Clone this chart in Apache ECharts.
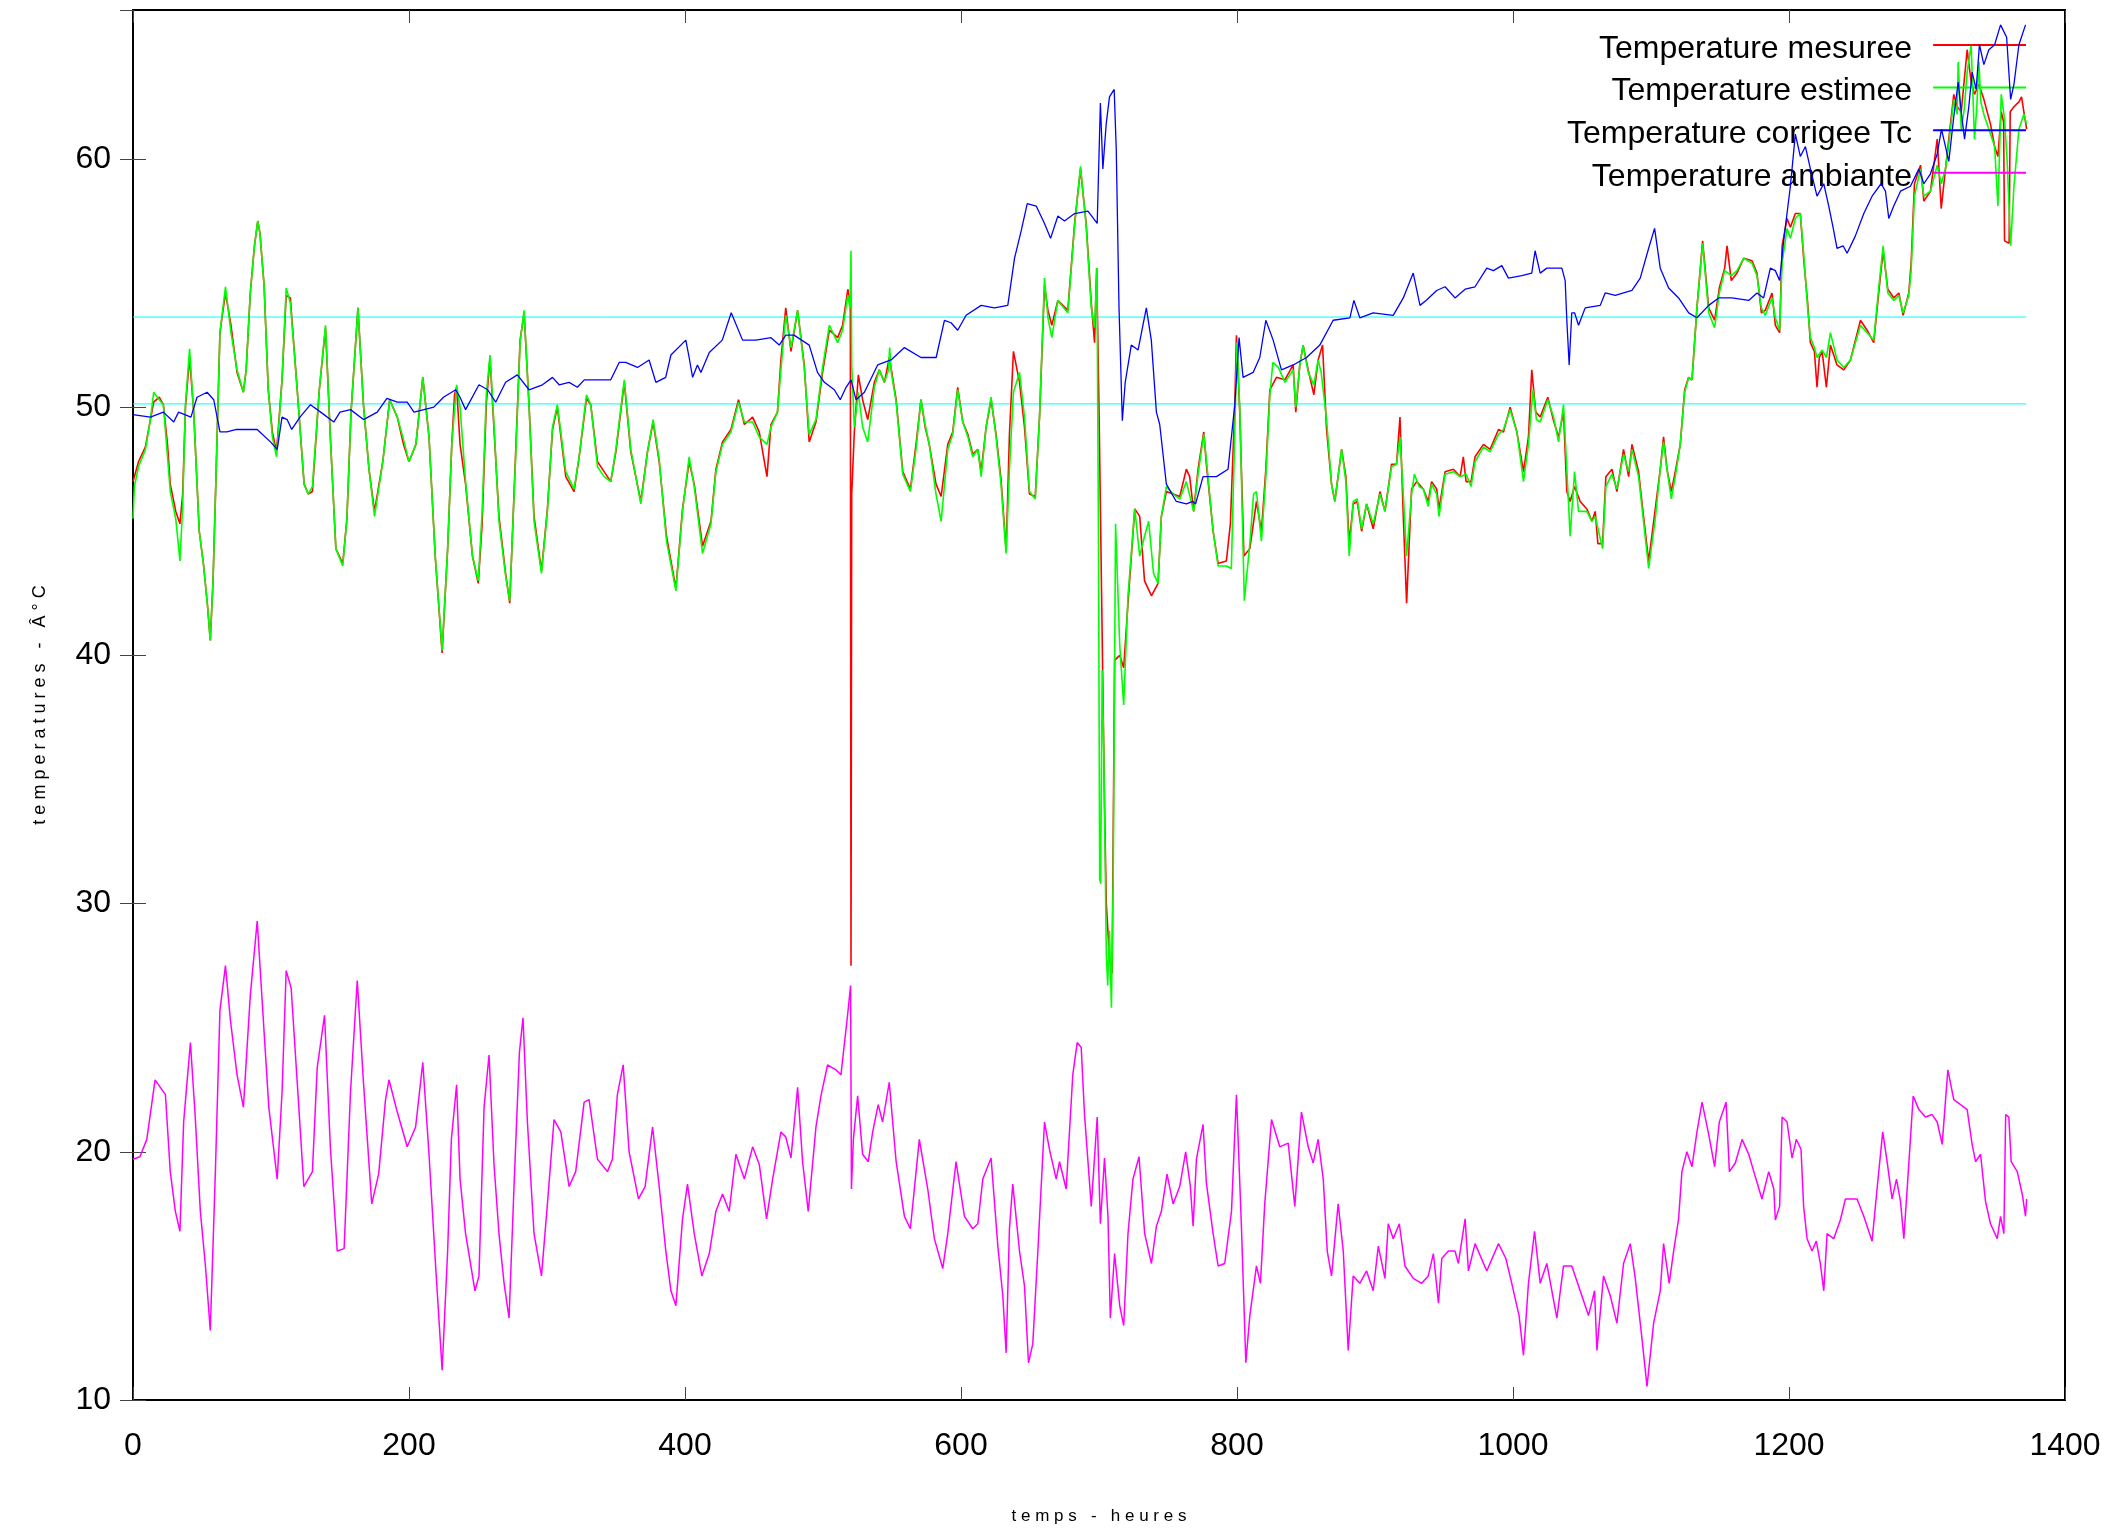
<!DOCTYPE html>
<html>
<head>
<meta charset="utf-8">
<script src="https://cdn.jsdelivr.net/npm/echarts@6/dist/echarts.min.js"></script>
<style>
html,body{margin:0;padding:0;background:#fff;}
#chart{width:2112px;height:1533px;}
</style>
</head>
<body>
<div id="chart"></div>
<script>
// ---- data (hours, °C) ----
const xTicks = [0, 200, 400, 600, 800, 1000, 1200, 1400];
const yTicks = [10, 20, 30, 40, 50, 60];
const seriesNames = ['Temperature mesuree', 'Temperature estimee', 'Temperature corrigee Tc', 'Temperature ambiante'];
const cyanLevels = [53.63, 50.13];
const cyanExtent = [0, 1372];

const temperatureMesuree = [
[0,47.0],[4,47.8],[9,48.4],[12.6,49.5],[15,50.2],[19,50.4],[22,50.1],[25,48.5],[27,46.9],[31,45.8],[34,45.3],[36,46.5],[38,50.0],[41,52.0],[44,49.8],[48,45.0],[51,43.7],[54,42.0],[56,40.6],[58,43.0],[60,46.9],[63,53.0],[67,54.6],[71,53.3],[75.4,51.4],[80,50.6],[82,51.5],[85,54.6],[88,56.5],[90.4,57.5],[92,57.0],[95,54.9],[98,50.7],[101,49.0],[104,48.2],[108,51.1],[111,54.5],[114,54.4],[119,50.7],[124,46.9],[127,46.5],[130,46.6],[135,50.7],[139.5,53.2],[143,48.8],[147,44.3],[152,43.7],[155,45.5],[158,49.8],[163,54.0],[167,50.1],[171,47.5],[175,45.8],[181,47.8],[186,50.3],[191.5,49.6],[196,48.5],[200,47.8],[205,48.5],[210,51.2],[214.5,48.8],[219,44.0],[224,40.1],[228,44.3],[231,48.5],[233,50.5],[234.5,50.8],[237,48.5],
[241,46.9],[246,44.0],[250.2,42.9],[253,45.3],[256,50.1],[258.7,52.0],[261.6,49.1],[265.2,45.6],[270,43.3],[273,42.1],[277.3,48.2],[280.5,52.7],[283.4,53.8],[287,50.1],[290.6,45.6],[296,43.4],[300.3,45.9],[304,49.1],[307.5,50.0],[313.6,47.2],[319.6,46.6],[323.3,48.0],[328.6,50.35],[331.7,50.1],[336.6,47.8],[341.4,47.4],[346.2,47.0],[349.9,48.2],[356,51.0],[360.7,48.2],[368,46.2],[372.8,48.2],[376.9,49.4],[381.3,47.8],[386.6,44.8],[393.4,42.7],[398.2,45.9],[403,47.8],[406.7,46.9],[412.7,44.4],[418.8,45.4],[422.4,47.5],[427.2,48.6],[433.3,49.1],[438.8,50.3],[443,49.3],[449,49.6],[453.8,49.0],[459.4,47.2],[462.3,49.3],[467,49.8],[469.5,51.9],[473,54.0],
[476.8,52.25],[481.6,53.9],[486.4,51.7],[490,48.6],[494.9,49.4],[499.7,51.4],[504.6,53.1],[510.6,52.8],[514.2,53.3],[518,54.75],[519.8,54.2],[520.3,27.5],[520.8,46.5],[522.7,49.0],[525.6,51.3],[528.7,50.3],[532.4,49.5],[537.2,51.0],[540.8,51.5],[544.5,51.0],[548.1,52.0],[553,50.3],[557.8,47.4],[563.3,46.7],[567.4,48.5],[571,50.3],[574,49.2],[577,48.5],[581.9,46.9],[585.6,46.4],[590.4,48.5],[594,49.0],[597.6,50.8],[601.3,49.4],[605,48.9],[608.5,48.1],[612.2,48.3],[614.6,47.4],[618.2,49.2],[621.8,50.3],[625.4,48.9],[629,47.1],[632.7,44.2],[635.1,48.9],[638,52.25],[642.4,51.0],[646,49.2],[649.6,46.5],[653.8,46.4],[656.9,49.6],[660.5,54.9],[663,53.9],[665.8,53.3],[670.2,54.3],[677.4,53.9],[682.3,57.4],[686.6,59.6],[690.7,57.4],[694.4,54.2],[696.8,52.6],[698.3,55.6],[700,50.0],[702,42.0],[704,34.0],[705.3,30.0],[707.6,27.8],[709.5,27.2],[711.3,39.8],[715,40.0],[717.9,39.5],[721,42.1],
[725.9,45.9],[729.5,45.6],[733,43.0],[738,42.4],[742.8,42.9],[745.2,45.6],[748.8,46.6],[753.7,46.5],[758.5,46.4],[763.3,47.5],[765.7,47.2],[768.6,45.8],[771.8,47.5],[775.9,49.0],[777.8,47.7],[782.7,45.0],[786.3,43.7],[792.3,43.8],[795.2,45.3],[798.4,50.1],[799.6,52.9],[802,49.8],[805,44.0],[809.3,44.3],[814.1,46.2],[817.7,45.0],[820.9,47.5],[823.8,50.7],[828.6,51.2],[834.7,51.1],[840.7,51.7],[842.6,49.8],[845.5,51.7],[847.9,52.5],[851.6,51.5],[855.7,50.5],[858.8,51.9],[862,52.5],[864.9,49.1],[868.5,46.9],[870.9,46.2],[875.8,48.3],[878.9,47.2],[881.3,44.5],[884.2,46.1],[887.1,46.2],[890.3,45.0],[893.9,46.1],[898.7,45.1],[903.6,46.6],[907.2,45.8],[912,47.7],[915.6,47.7],[918.1,49.6],[920.5,45.6],[922.9,42.1],[926.5,46.7],[930.2,47.0],[935,46.7],[938.6,46.2],[941,47.0],[944.7,46.7],
[946.4,45.9],[950.8,47.4],[956.8,47.5],[961.7,47.2],[964,48.0],[966,47.0],[969.6,47.0],[972.5,48.0],[978.6,48.5],[983.4,48.3],[989.5,49.1],[993.1,49.0],[997.9,50.0],[1002.8,49.0],[1007.6,47.4],[1011.2,48.8],[1013.6,51.5],[1016.5,49.8],[1019.7,49.6],[1025.2,50.4],[1029.4,49.45],[1033,48.8],[1036.6,49.8],[1039,46.6],[1041.4,46.2],[1044.6,46.8],[1048.7,46.2],[1053.5,45.9],[1057.2,45.4],[1059.6,45.8],[1061.5,44.5],[1064.9,44.5],[1067.3,47.2],[1071.7,47.5],[1075.3,46.6],[1080.1,48.3],[1083.8,47.2],[1086.2,48.5],[1091,47.4],[1094.6,45.6],[1098.3,43.8],[1103.1,45.9],[1106.7,47.5],[1109.1,48.8],[1111.6,47.5],[1114.7,46.6],[1117.6,47.4],[1121.2,48.5],[1124.4,50.7],[1127.3,51.2],[1129.7,51.1],[1133.3,54.0],[1137.4,56.7],[1141.8,54.0],[1146.1,53.5],[1149.5,54.8],[1153.4,55.6],[1155.1,56.5],[1158.2,55.1],[1162.3,55.4],[1167.2,56.0],[1173.2,55.9],[1176.8,55.4],[1180,53.8],
[1182.8,53.9],[1187.7,54.6],[1190.1,53.3],[1193.2,53.0],[1195,56.5],[1198.6,57.6],[1201,57.25],[1204.6,57.8],[1208.2,57.8],[1210.6,56.0],[1213.5,54.2],[1215.5,52.6],[1218.4,52.25],[1220.3,50.8],[1222,52.0],[1224,52.25],[1227.1,50.8],[1230,52.5],[1234.8,51.7],[1239.7,51.5],[1244.5,51.9],[1251.8,53.5],[1256.6,53.1],[1261.4,52.6],[1265,54.6],[1268.2,56.3],[1271.6,54.75],[1276,54.4],[1279.6,54.6],[1282.7,53.7],[1286.8,54.6],[1288.5,55.8],[1290.9,59.0],[1295.3,59.75],[1297.7,58.3],[1302.5,58.7],[1307.4,60.8],[1310.3,58.0],[1313.4,59.6],[1315.8,60.8],[1319.4,62.6],[1321.9,62.1],[1324.8,61.9],[1329.1,64.4],[1332,63.1],[1334.4,62.6],[1337.6,63.0],[1341.2,62.4],[1346,61.4],[1349,60.5],[1351.4,60.1],[1353.8,61.9],[1355.5,61.5],[1356.2,56.7],[1359.5,56.6],[1360.3,61.9],[1363,62.1],[1366.6,62.3],[1368.5,62.5],[1370.2,61.9],[1372.2,61.2]
];

const temperatureEstimee = [
[0,45.5],[1,46.8],[4,47.6],[9,48.3],[12.6,49.5],[15,50.6],[19,50.3],[22,50.1],[25,48.0],[27,46.6],[31,45.5],[34,43.8],[36,46.0],[38,50.1],[41,52.35],[44,49.8],[48,45.0],[51,43.7],[54,42.0],[56,40.6],[58,43.0],[60,46.9],[63,53.0],[67,54.85],[71,53.0],[75.4,51.5],[80,50.6],[82,51.5],[85,54.6],[88,56.5],[90.4,57.5],[92,57.0],[95,54.9],[98,50.7],[101,48.8],[104,48.0],[108,51.1],[111,54.8],[114,54.2],[119,50.7],[124,46.9],[127,46.5],[130,46.8],[135,50.7],[139.5,53.3],[143,48.8],[147,44.3],[152,43.6],[155,45.5],[158,49.8],[163,54.0],[167,50.1],[171,47.5],[175,45.6],[181,47.8],[186,50.3],[191.5,49.6],[196,48.7],[200,47.8],[205,48.5],[210,51.2],[214.5,48.8],[219,44.0],[224,40.2],[228,44.3],[231,48.5],[234.5,50.9],[237,50.0],
[241,47.0],[246,44.0],[250.2,43.0],[253,45.8],[256,50.5],[258.7,52.1],[261.6,49.3],[265.2,45.4],[270,43.2],[273,42.2],[277.3,48.0],[280.5,52.6],[283.4,53.9],[287,50.0],[290.6,45.4],[296,43.3],[300.3,45.8],[304,49.2],[307.5,50.1],[313.6,47.4],[319.6,46.7],[323.3,48.0],[328.6,50.5],[331.7,50.1],[336.6,47.6],[341.4,47.2],[346.2,47.0],[349.9,48.3],[356,51.1],[360.7,48.3],[368,46.1],[372.8,48.2],[376.9,49.5],[381.3,47.9],[386.6,44.6],[393.4,42.6],[398.2,45.8],[403,48.0],[406.7,46.8],[412.7,44.1],[418.8,45.3],[422.4,47.4],[427.2,48.5],[433.3,49.0],[438.8,50.2],[443,49.4],[449,49.4],[453.8,48.8],[459.4,48.5],[462.3,49.2],[467,49.8],[469.5,51.5],
[473,53.7],[476.8,52.4],[481.6,53.9],[486.4,51.6],[490,48.9],[494.9,49.5],[499.7,51.6],[504.6,53.3],[510.6,52.6],[514.2,53.1],[518,54.5],[519.5,54.0],[520.3,56.3],[520.8,51.7],[522.7,49.2],[525.6,50.6],[528.7,49.2],[532.4,48.6],[537.2,50.8],[540.8,51.5],[544.5,51.0],[547.5,51.5],[548.3,52.4],[549.5,51.4],[553,50.2],[557.8,47.3],[563.3,46.6],[567.4,48.3],[571,50.3],[574,49.3],[577,48.5],[581.9,46.5],[585.6,45.4],[590.4,48.3],[594,48.9],[597.6,50.7],[601.3,49.4],[605,48.8],[608.5,48.0],[612.2,48.3],[614.6,47.2],[618.2,49.2],[621.8,50.4],[625.4,48.8],[629,46.9],[632.7,44.1],[635.1,47.5],[638,50.6],[642.4,51.4],[646,49.6],[649.6,46.6],[653.8,46.3],[656.9,49.6],[660.5,55.2],[663,53.6],[665.8,52.8],[670.2,54.3],[677.4,53.8],[682.3,57.3],[686.6,59.7],[690.7,57.3],[694.4,54.0],[696.8,53.2],[698.5,55.6],[699.6,45.0],[700.5,31.0],[701.2,30.8],[702.3,39.4],[703.5,36.0],[705.3,28.0],[706.3,26.7],[707.6,28.9],[709,25.8],[710.3,31.0],[712,45.3],[715,40.45],[717.9,38.0],[721,42.4],
[725.9,45.9],[729.5,44.0],[733,44.8],[736,45.4],[739.5,43.3],[742.8,42.9],[745.2,45.6],[748.8,46.8],[753.7,46.5],[758.5,46.3],[763.3,47.0],[768.6,45.8],[771.8,47.3],[775.9,48.9],[777.8,47.9],[782.7,45.0],[786.3,43.6],[792.3,43.6],[795.9,43.5],[798.4,49.0],[800,52.6],[802,50.0],[805.3,42.2],[809.3,44.5],[812,46.5],[814.1,46.6],[817.7,44.6],[820.9,47.2],[823.8,50.5],[826,51.8],[830,51.6],[834.7,51.0],[840.7,51.5],[842.6,50.0],[845.5,51.7],[847.9,52.5],[851.6,51.4],[855.7,50.9],[858.8,51.9],[861,51.4],[864.9,49.5],[868.5,46.9],[870.9,46.2],[875.8,48.3],[878.9,47.0],[881.3,44.0],[884.2,46.2],[887.1,46.3],[890.3,45.1],[893.9,46.1],[898.7,45.3],[903.6,46.5],[907.2,45.8],[912,47.6],[915.6,47.7],[918.1,48.8],[920.5,46.5],[922.9,44.0],[926.5,46.5],[928.5,47.3],[932,46.8],[935,46.7],[938.6,46.0],[941,46.9],[944.7,46.5],
[946.4,45.6],[950.8,47.3],[956.8,47.4],[961.7,47.2],[966,47.3],[969.6,46.8],[972.5,47.8],[978.6,48.4],[983.4,48.2],[989.5,48.9],[993.1,49.1],[997.9,49.9],[1002.8,49.0],[1007.6,47.0],[1011.2,48.5],[1014.5,50.7],[1017,49.5],[1019.7,49.4],[1025.2,50.3],[1029.4,49.6],[1033,48.6],[1036.6,50.1],[1039,47.5],[1041.4,44.8],[1044.6,47.4],[1047.5,45.8],[1053.5,45.8],[1057.2,45.4],[1059.6,45.6],[1062,45.0],[1064.9,44.3],[1067.3,46.8],[1071.7,47.3],[1075.3,46.7],[1080.1,48.1],[1083.8,47.4],[1086.2,48.3],[1091,47.2],[1094.6,45.4],[1098.3,43.5],[1103.1,45.5],[1106.7,47.5],[1109.1,48.6],[1111.6,47.5],[1114.7,46.3],[1117.6,47.2],[1121.2,48.5],[1124.4,50.6],[1127.3,51.2],[1129.7,51.1],[1133.3,54.0],[1137.4,56.6],[1141.8,53.8],[1146.1,53.2],[1149.5,54.6],[1153.4,55.5],[1158.2,55.3],[1162.3,55.5],[1167.2,56.0],[1173.2,55.8],[1176.8,55.3],[1180,54.0],
[1182.8,53.7],[1187.7,54.4],[1190.1,53.6],[1193.2,53.1],[1195,55.8],[1198.6,57.2],[1201,56.8],[1204.6,57.6],[1208.2,57.8],[1210.6,56.2],[1213.5,54.0],[1215.5,52.8],[1218.4,52.4],[1220.3,52.0],[1224,52.3],[1227.1,52.0],[1230,53.0],[1234.8,51.9],[1239.7,51.6],[1244.5,51.9],[1251.8,53.3],[1256.6,53.0],[1261.4,52.7],[1265,54.8],[1268.2,56.5],[1271.6,54.6],[1276,54.3],[1279.6,54.5],[1282.7,53.8],[1286.8,54.5],[1288.5,55.5],[1290.9,58.5],[1295.3,59.6],[1297.7,58.5],[1302.5,58.7],[1307.4,59.75],[1310.3,59.0],[1313.4,59.6],[1315.8,60.6],[1319.4,62.4],[1321.9,61.8],[1322.6,63.9],[1324.8,61.2],[1327,62.0],[1329.1,63.5],[1332,64.6],[1334.4,60.8],[1336,62.0],[1337.6,63.9],[1339,62.3],[1341.2,61.8],[1346,61.0],[1349,60.5],[1351.4,58.1],[1353.8,62.6],[1356.2,61.6],[1358.1,59.9],[1360.6,56.5],[1363,58.9],[1366.6,61.2],[1370.2,61.8],[1372.2,61.4]
];

const temperatureCorrigee = [
[0,49.7],[12.6,49.6],[22,49.8],[29.5,49.4],[33,49.8],[42,49.6],[46.4,50.4],[53.7,50.6],[58.5,50.3],[63,49.0],[68,49.0],[75,49.1],[90,49.1],[99.6,48.6],[104.5,48.3],[108,49.6],[111.7,49.5],[115,49.1],[121,49.6],[128.6,50.1],[136,49.8],[145.5,49.4],[150,49.8],[157.6,49.9],[167,49.5],[177,49.8],[184,50.35],[191.5,50.2],[198.7,50.2],[203.6,49.8],[210.8,49.9],[218,50.0],[225,50.4],[233.8,50.7],[237,50.4],[241,49.9],[250.7,50.9],[257,50.7],[262.8,50.2],[270,51.0],[278.5,51.3],[287,50.7],[296.7,50.9],[304,51.2],[308.8,50.9],[316,51.0],[322,50.8],[327,51.1],[335.4,51.1],[346.2,51.1],[352.3,51.8],[357,51.8],[365.6,51.6],[374,51.9],[378.9,51.0],[386,51.2],[389.8,52.1],[400.6,52.7],[403,52.0],[405.5,51.2],[409,51.7],[411.5,51.4],[417.6,52.2],[427,52.7],[433.5,53.8],[441.7,52.7],[451.4,52.7],[462.3,52.8],[468.3,52.5],[473,52.9],
[479,52.9],[490,52.5],[496,51.4],[501,51.0],[508.2,50.7],[512.5,50.3],[516.7,50.8],[520.3,51.1],[523.9,50.3],[530,50.6],[539.6,51.7],[549.3,51.9],[559,52.4],[571,52.0],[582,52.0],[588,53.5],[592.8,53.4],[597.6,53.1],[603.7,53.7],[614.6,54.1],[624.2,54.0],[633.9,54.1],[638.8,56.0],[643.6,57.1],[648,58.2],[654.5,58.1],[660.5,57.4],[664.9,56.8],[670.2,57.7],[675,57.5],[682.3,57.8],[692,57.9],[698.7,57.4],[701,62.25],[702.8,59.6],[705.2,61.4],[707.6,62.5],[711,62.8],[712.5,60.4],[714.5,54.0],[716.9,49.45],[719,51.0],[723.4,52.5],[728.3,52.3],[734.3,54.0],[737.9,52.7],[741.6,49.8],[744,49.3],[748.8,46.9],[756,46.2],[763.3,46.1],[768,46.2],[770,46.1],[775.4,47.2],[785.1,47.2],[793.5,47.5],[798.4,50.1],[801.5,52.8],[804.4,51.2],[811.7,51.4],[816.5,52.0],[820.9,53.5],[826.2,52.7],[832.2,51.5],[840.7,51.7],[850.4,52.0],[860,52.5],[869.7,53.5],[881.8,53.6],[884.7,54.3],[889,53.6],[898.7,53.8],[913.2,53.7],[920.5,54.4],[927.7,55.4],[932.6,54.1],[937,54.3],[944.7,54.7],
[950.8,54.85],[958,54.4],[965.3,54.75],[972.5,54.85],[981,55.6],[985.8,55.5],[991.9,55.7],[996.7,55.2],[1006.4,55.3],[1013.6,55.4],[1016,56.3],[1019.7,55.4],[1024.5,55.6],[1035.4,55.6],[1037.8,55.1],[1039,53.5],[1040.7,51.7],[1042.6,53.8],[1044.6,53.8],[1047.5,53.3],[1052.3,54.0],[1063.2,54.1],[1066.8,54.6],[1074.1,54.5],[1086.2,54.7],[1092.2,55.2],[1098.3,56.4],[1102.6,57.2],[1106.7,55.6],[1112.8,54.8],[1120,54.4],[1127.3,53.8],[1133.3,53.6],[1141.8,54.1],[1149,54.4],[1158.7,54.4],[1170.8,54.3],[1176.8,54.6],[1181.6,54.4],
[1186.5,55.6],[1190.1,55.5],[1193.2,55.1],[1196.1,56.7],[1201,58.9],[1204.6,61.0],[1208.2,60.1],[1211.9,60.5],[1215.5,59.6],[1220.3,58.5],[1225.2,59.0],[1228.8,58.1],[1231.9,57.25],[1234.8,56.4],[1239.2,56.5],[1242.1,56.2],[1248.1,56.9],[1254.2,57.8],[1260.2,58.5],[1266.7,59.0],[1269.9,58.7],[1272.3,57.6],[1275.9,58.1],[1280.8,58.7],[1288,58.9],[1294.1,59.6],[1297.7,59.0],[1302.5,59.4],[1307.4,60.2],[1310.5,61.2],[1315.8,59.9],[1319.4,61.7],[1322.6,63.1],[1324.8,61.9],[1327.2,60.8],[1330.3,62.1],[1332.7,63.5],[1335.6,62.8],[1338,64.6],[1341.2,63.8],[1344.8,64.4],[1349,64.6],[1353.3,65.4],[1357.7,64.9],[1360.6,62.4],[1363,63.0],[1366.6,64.6],[1371.4,65.4]
];

const temperatureAmbiante = [
[0,19.7],[5,19.8],[10,20.5],[16,22.9],[23.5,22.3],[27,19.2],[30.7,17.6],[34,16.8],[36.7,21.2],[41.6,24.4],[45,21.5],[48.8,17.6],[52.5,15.4],[56,12.8],[59.7,19.2],[63,25.7],[67,27.5],[70.6,25.3],[75.4,23.1],[80,21.8],[85,26.3],[90,29.3],[94.8,25.0],[98.4,21.8],[104.5,18.9],[108,22.4],[111,27.3],[114.6,26.6],[119,22.8],[123.8,18.6],[130,19.2],[133.5,23.4],[138.8,25.5],[143,20.2],[148,16.0],[153,16.1],[157.6,22.4],[162.5,26.9],[167,22.8],[173,17.9],[178,19.1],[183,22.1],[185.5,22.9],[191.5,21.6],[198.7,20.2],[204.8,21.0],[210,23.6],[214.5,19.9],[219.3,15.4],[224,11.2],[228,16.0],[230.7,20.5],[234.5,22.7],[237,18.9],
[241,16.7],[247.8,14.4],[250.7,15.0],[254.4,21.8],[258,23.9],[261.6,19.5],[265.2,16.7],[268.9,14.7],[272.5,13.3],[276.1,18.6],[280,24.0],[282.6,25.4],[285.8,21.2],[290.6,16.7],[296,15.0],[300.3,17.9],[305.1,21.3],[310,20.8],[316,18.6],[320.8,19.2],[326.9,22.0],[330.5,22.1],[336.6,19.7],[343.8,19.2],[347.4,19.7],[351,22.3],[355.2,23.5],[359.5,20.0],[366.3,18.1],[371.1,18.6],[376.5,21.0],[381.3,18.6],[386.1,16.0],[389.8,14.4],[393.4,13.8],[398.2,17.3],[401.8,18.7],[406.7,16.7],[412.2,15.0],[417.6,15.9],[422.4,17.6],[427.2,18.3],[432,17.6],[436.9,19.9],[443,18.9],[449,20.2],[453.8,19.5],[459.1,17.3],[463.5,18.9],[469.5,20.8],
[473,20.6],[476.8,19.75],[481.6,22.6],[485.2,19.6],[489.3,17.6],[494.9,21.0],[498.5,22.25],[503.3,23.5],[509.4,23.3],[513,23.1],[518,25.6],[520,26.7],[520.6,18.5],[522,20.5],[525.1,22.25],[528.7,19.9],[532.8,19.6],[536,20.8],[540,21.9],[543.2,21.2],[548,22.8],[553,19.6],[559,17.4],[563.3,16.9],[569.8,20.5],[575.9,18.5],[580.7,16.5],[586.8,15.3],[590.4,16.7],[596.4,19.6],[602.5,17.4],[608.5,16.9],[612.2,17.1],[615.8,18.9],[621.8,19.75],[626.7,16.2],[630.3,14.2],[632.7,11.9],[635.1,16.9],[637.5,18.7],[642.4,16.0],[646,14.6],[648.9,11.5],[652,12.25],[655.7,16.0],[660.5,21.2],[664.1,20.1],[669,18.9],[671.4,19.6],[676.2,18.5],[681,23.1],[684.2,24.4],[687.1,24.2],[689.5,21.5],[694.4,17.8],[698.7,21.4],[701,17.1],[704,19.75],[706.5,17.4],
[708.2,13.3],[711.3,15.9],[715,13.8],[717.9,13.0],[721,16.7],[724.6,18.9],[729,19.8],[733.1,16.7],[738,15.5],[741.6,17.0],[745.2,17.6],[749.3,19.1],[753.7,17.9],[758.5,18.6],[762.8,20.0],[766.2,18.6],[768.2,17.0],[770.6,19.7],[775.4,21.1],[777.8,18.75],[782.7,16.7],[786.3,15.4],[791.1,15.5],[796,17.6],[799.6,22.3],[803.2,17.0],[806.4,11.5],[809.3,13.4],[814.1,15.4],[817,14.7],[820.1,17.9],[825,21.3],[831,20.2],[837.1,20.35],[841.9,17.8],[846.7,21.6],[851.6,20.2],[855.2,19.55],[858.8,20.5],[862.5,18.9],[865.4,16.0],[868.5,15.0],[873.3,17.9],[877,16.0],[880.6,12.0],[884.2,15.0],[889,14.7],[893.9,15.2],[898.7,14.4],[902.4,16.2],[907.2,14.9],[909.6,17.1],[913.2,16.5],[917.6,17.1],[921.7,15.4],[927.7,14.9],[933.8,14.7],[938.6,15.0],[942.3,15.9],
[946,13.9],[948.4,15.7],[953.2,16.0],[958,16.0],[960.4,15.5],[965.3,17.3],[967.7,15.2],[972.5,16.3],[981,15.2],[989.5,16.3],[994.8,15.7],[999.1,14.7],[1004.4,13.4],[1007.6,11.8],[1011.2,14.7],[1015.6,16.8],[1019.7,14.7],[1024.5,15.5],[1031.8,13.3],[1036.6,15.4],[1042.6,15.4],[1048.7,14.4],[1054.7,13.4],[1059.1,14.4],[1060.8,12.0],[1065.6,15.0],[1070.5,14.2],[1075.3,13.1],[1080.1,15.5],[1085,16.3],[1088.6,14.9],[1093.4,12.5],[1097.1,10.55],[1101.9,13.1],[1106.7,14.4],[1109.1,16.3],[1113.2,14.7],[1116.4,16.0],[1120,17.3],[1122.4,19.2],[1126,20.0],[1129.7,19.4],[1133.3,20.8],[1137,22.0],[1141.8,20.7],[1146.1,19.4],[1149.5,21.2],[1154.4,22.0],[1156.8,19.2],[1161.1,19.55],[1166,20.5],[1170.8,19.9],[1176.1,18.9],
[1180.4,18.1],[1185.3,19.2],[1189,18.5],[1190.1,17.25],[1193.2,17.8],[1195,21.4],[1198.6,21.2],[1202.2,19.75],[1205.3,20.5],[1208.7,20.1],[1210.6,17.8],[1213.1,16.5],[1216.7,16.0],[1219.8,16.4],[1222.7,15.5],[1225.2,14.4],[1227.6,16.7],[1232.4,16.5],[1237.2,17.25],[1240.9,18.1],[1249.3,18.1],[1254.2,17.4],[1260.2,16.4],[1263.8,18.5],[1267.9,20.8],[1271.1,19.6],[1274.7,18.1],[1277.9,18.9],[1280.8,18.0],[1283.2,16.5],[1286.1,18.9],[1290,22.25],[1294.1,21.7],[1298.9,21.4],[1303.7,21.5],[1307.4,21.2],[1311,20.3],[1315.1,23.3],[1319.4,22.1],[1324.3,21.9],[1329.1,21.7],[1332.7,20.3],[1335.2,19.6],[1338.8,19.9],[1342.4,18.0],[1346,17.1],[1350.9,16.5],[1353.3,17.4],[1355.7,16.7],[1357,21.5],[1359.3,21.4],[1361,19.6],[1365.4,19.2],[1369,18.3],[1371.4,17.4],[1372.2,18.1]
];

// ---- chart ----
const FONT = "'Liberation Sans', Arial, sans-serif";
const chart = echarts.init(document.getElementById('chart'), null, { renderer: 'canvas' });

function dataLine(name, data, color, width, z) {
  return {
    name: name, type: 'line', data: data, showSymbol: false, symbol: 'none',
    smooth: false, z: z, animation: false,
    lineStyle: { color: color, width: width }, itemStyle: { color: color },
    emphasis: { disabled: true }
  };
}
function levelLine(level) {
  return {
    type: 'line', data: [[cyanExtent[0], level], [cyanExtent[1], level]],
    showSymbol: false, symbol: 'none', z: 1, animation: false,
    lineStyle: { color: '#00ffff', width: 1 }, emphasis: { disabled: true }
  };
}

const tickStyle = { show: true, inside: true, length: 13, lineStyle: { color: '#444', width: 1 } };
const plain = function (v) { return String(v); };

chart.setOption({
  backgroundColor: '#ffffff',
  animation: false,
  grid: { left: 133, right: 47, top: 10, bottom: 133, show: true, borderColor: '#000', borderWidth: 2, backgroundColor: 'transparent' },
  legend: {
    data: seriesNames, orient: 'vertical', right: 81, top: 25, align: 'right',
    // thin sample line drawn in the upper part of a 10 px icon box
    icon: 'path://M0,0H93V2H0ZM0,10H0.01V10.01H0Z', itemWidth: 93, itemHeight: 10, itemGap: 4.6,
    textStyle: { fontSize: 32, fontFamily: FONT, color: '#000', lineHeight: 32, padding: [6, 16, 0, 0] },
    selectedMode: false
  },
  xAxis: [
    { type: 'value', position: 'bottom', min: xTicks[0], max: xTicks[xTicks.length - 1], interval: 200,
      axisLine: { show: false }, axisTick: tickStyle, splitLine: { show: false },
      axisLabel: { fontSize: 32, fontFamily: FONT, color: '#000', margin: 30, formatter: plain },
      name: 't e m p s   -   h e u r e s', nameLocation: 'middle', nameGap: 108,
      nameTextStyle: { fontSize: 17, fontFamily: FONT, color: '#000' } },
    { type: 'value', position: 'top', min: xTicks[0], max: xTicks[xTicks.length - 1], interval: 200,
      axisLine: { show: false }, axisTick: tickStyle, splitLine: { show: false }, axisLabel: { show: false } }
  ],
  yAxis: [
    { type: 'value', position: 'left', min: yTicks[0], max: 66, interval: 10,
      axisLine: { show: false }, axisTick: tickStyle, splitLine: { show: false },
      axisLabel: { fontSize: 32, fontFamily: FONT, color: '#000', margin: 22, showMaxLabel: false, formatter: plain },
      name: 't e m p e r a t u r e s   -   Â ° C', nameLocation: 'middle', nameGap: 84, nameRotate: 90,
      nameTextStyle: { fontSize: 18, fontFamily: FONT, color: '#000' } },
    { type: 'value', position: 'right', min: yTicks[0], max: 66, interval: 10,
      axisLine: { show: false }, axisTick: tickStyle, splitLine: { show: false }, axisLabel: { show: false } }
  ],
  series: [
    dataLine(seriesNames[0], temperatureMesuree, '#ff0000', 1.6, 2),
    dataLine(seriesNames[1], temperatureEstimee, '#00ff00', 1.6, 3),
    dataLine(seriesNames[2], temperatureCorrigee, '#0000ff', 1.3, 4),
    dataLine(seriesNames[3], temperatureAmbiante, '#ff00ff', 1.5, 5),
    levelLine(cyanLevels[0]),
    levelLine(cyanLevels[1])
  ]
});
</script>
</body>
</html>
